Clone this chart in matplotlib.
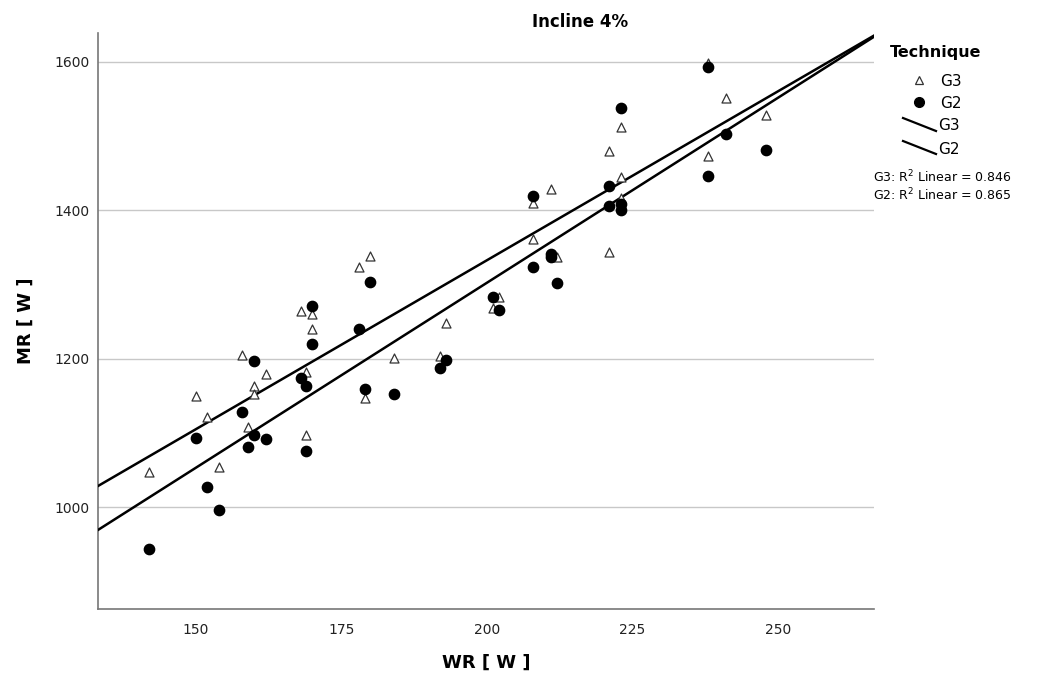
import numpy as np
import matplotlib
matplotlib.use("Agg")
import matplotlib.pyplot as plt
from matplotlib.lines import Line2D

# WR [W] / MR [W] per athlete
g3_wr = [142, 150, 152, 154, 158, 159, 160, 160, 162, 168, 169, 169, 170, 170,
         178, 179, 180, 184, 192, 193, 201, 202, 208, 208, 211, 212, 221, 221,
         223, 223, 223, 238, 238, 241, 248]
g3_mr = [1048, 1150, 1122, 1054, 1205, 1108, 1164, 1153, 1180, 1264, 1182, 1098, 1261, 1240,
         1324, 1147, 1339, 1201, 1204, 1248, 1269, 1284, 1361, 1410, 1429, 1337, 1480, 1344,
         1512, 1445, 1417, 1598, 1473, 1552, 1529]

g2_wr = [142, 150, 152, 154, 158, 159, 160, 160, 162, 168, 169, 169, 170, 170,
         178, 179, 180, 184, 192, 193, 201, 202, 208, 208, 211, 211, 212, 221, 221,
         223, 223, 223, 238, 238, 241, 248]
g2_mr = [944, 1093, 1027, 997, 1128, 1081, 1197, 1097, 1092, 1174, 1164, 1076, 1271, 1220,
         1240, 1159, 1303, 1152, 1188, 1198, 1283, 1266, 1324, 1419, 1341, 1337, 1302, 1433, 1406,
         1538, 1409, 1401, 1593, 1447, 1503, 1481]

r2_text = ["G3: R$^2$ Linear = 0.846", "G2: R$^2$ Linear = 0.865"]
x_ticks = [150, 175, 200, 225, 250]
y_ticks = [1000, 1200, 1400, 1600]

plt.rcParams['font.family'] = ['DejaVu Sans']

fig = plt.figure(figsize=(10.39, 6.8), dpi=100)
ax = fig.add_axes([98 / 1039, 1 - 609 / 680, 776 / 1039, 576 / 680])

xlim = (133.2, 266.5)
ax.set_xlim(*xlim)
ax.set_ylim(863, 1639)

# regression lines across the full x range
xs = np.array(xlim)
for wr, mr in [(g3_wr, g3_mr), (g2_wr, g2_mr)]:
    k, b = np.polyfit(wr, mr, 1)
    ax.plot(xs, k * xs + b, color='black', lw=1.8, zorder=3)

ax.scatter(g3_wr, g3_mr, marker='^', s=42, facecolor='white', edgecolor='#333333',
           linewidth=0.9, zorder=4)
ax.scatter(g2_wr, g2_mr, marker='o', s=55, facecolor='black', edgecolor='black', zorder=4)

ax.set_xticks(x_ticks)
ax.set_yticks(y_ticks)
ax.tick_params(length=0, labelsize=10, colors='#222222', pad=10)
ax.tick_params(axis='y', pad=6)
ax.grid(axis='y', color='#c8c8c8', lw=1)
ax.set_axisbelow(True)
for s in ['top', 'right']:
    ax.spines[s].set_visible(False)
for s in ['left', 'bottom']:
    ax.spines[s].set_color('#777777')
    ax.spines[s].set_linewidth(1.2)

ax.set_xlabel("WR [ W ]", fontsize=13, fontweight='bold', labelpad=12)
ax.set_ylabel("MR [ W ]", fontsize=13, fontweight='bold', labelpad=14)
fig.text(580 / 1039, 1 - 22 / 680, "Incline 4%", ha='center', va='center',
         fontsize=12, fontweight='bold')

# legend, drawn in figure pixels
def fx(px):
    return px / 1039

def fy(py):
    return 1 - py / 680

fig.text(fx(890), fy(52), "Technique", fontsize=11.5, fontweight='bold', va='center')
fig.add_artist(Line2D([fx(919)], [fy(80)], marker='^', ms=5.5, mfc='white', mec='#333333',
                      mew=0.9, transform=fig.transFigure))
fig.text(fx(940), fy(81), "G3", fontsize=11, va='center')
fig.add_artist(Line2D([fx(919)], [fy(102)], marker='o', ms=7, color='black',
                      transform=fig.transFigure))
fig.text(fx(940), fy(103), "G2", fontsize=11, va='center')
for yc, lab in [(125, "G3"), (148, "G2")]:
    fig.add_artist(Line2D([fx(903), fx(936)], [fy(yc - 7), fy(yc + 6)], color='black',
                          lw=1.6, transform=fig.transFigure))
    fig.text(fx(938), fy(yc + 1), lab, fontsize=11, va='center')
fig.text(fx(873), fy(177), r2_text[0], fontsize=9, va='center')
fig.text(fx(873), fy(195), r2_text[1], fontsize=9, va='center')

fig.savefig("out.png", dpi=100)
